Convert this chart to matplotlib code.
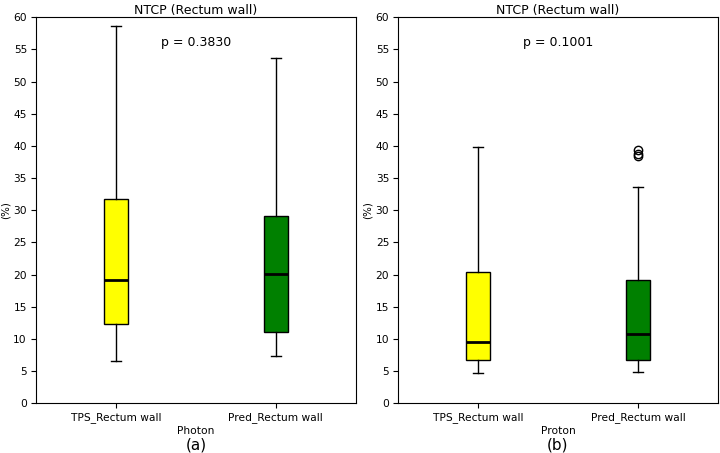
import matplotlib
matplotlib.use("Agg")
import matplotlib.pyplot as plt

# ── 데이터 ──────────────────────────────────────────────────────────
labels = ["TPS_Rectum wall", "Pred_Rectum wall"]
colors = ["yellow", "green"]

# Photon: [whislo, q1, med, q3, whishi]
photon_tps  = [6.6, 12.3, 19.1, 31.7, 58.6]
photon_pred = [7.3, 11.1, 20.1, 29.1, 53.6]
photon_fliers = [[], []]
photon_p = 0.3830

# Proton
proton_tps  = [4.7, 6.7, 9.5, 20.4, 39.8]
proton_pred = [4.8, 6.7, 10.8, 19.1, 33.6]
proton_fliers = [[], [38.4, 38.7, 39.3]]
proton_p = 0.1001


def make_stats(rows, fliers):
    out = []
    for lab, r, fl in zip(labels, rows, fliers):
        out.append(dict(label=lab, whislo=r[0], q1=r[1], med=r[2], q3=r[3],
                        whishi=r[4], fliers=fl))
    return out


fig = plt.figure(figsize=(7.2, 4.53), dpi=100)
ax1 = fig.add_axes([0.050, 0.110, 0.444, 0.852])
ax2 = fig.add_axes([0.553, 0.110, 0.444, 0.852])

panels = [
    (ax1, [photon_tps, photon_pred], photon_fliers, photon_p, "Photon", "(a)"),
    (ax2, [proton_tps, proton_pred], proton_fliers, proton_p, "Proton", "(b)"),
]

for ax, rows, fliers, pval, xlab, tag in panels:
    bp = ax.bxp(make_stats(rows, fliers), positions=[1, 2], widths=0.15,
                capwidths=0.065, patch_artist=True,
                medianprops=dict(color="black", linewidth=2),
                flierprops=dict(marker="o", markerfacecolor="none",
                                markeredgecolor="black", markersize=6))
    for patch, c in zip(bp["boxes"], colors):
        patch.set_facecolor(c)
        patch.set_edgecolor("black")
    ax.set_ylim(0, 60)
    ax.set_yticks(range(0, 61, 5))
    ax.set_xlim(0.5, 2.5)
    ax.tick_params(labelsize=7.7, pad=3)
    ax.set_title("NTCP (Rectum wall)", fontsize=9, pad=1.5)
    ax.set_ylabel("(%)", fontsize=7.5, labelpad=2)
    ax.text(0.5, 0.935, f"p = {pval:.4f}", transform=ax.transAxes,
            ha="center", va="center", fontsize=9)
    ax.set_xlabel(xlab, fontsize=7.7, labelpad=2)
    ax.annotate(tag, xy=(0.5, 0), xycoords="axes fraction",
                xytext=(0, -30), textcoords="offset points",
                ha="center", va="center", fontsize=11)

fig.savefig("out.png", dpi=100)
